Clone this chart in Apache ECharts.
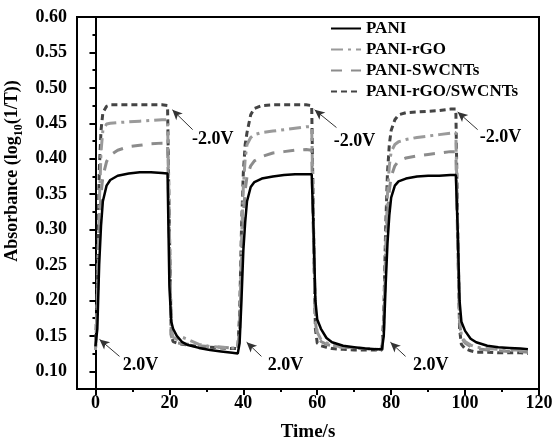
<!DOCTYPE html>
<html>
<head>
<meta charset="utf-8">
<script src="https://cdn.jsdelivr.net/npm/echarts@6/dist/echarts.min.js"></script>
<style>
  html, body { margin: 0; padding: 0; background: #fff; }
  #chart { width: 555px; height: 439px; }
</style>
</head>
<body>
<div id="chart"></div>
<script>
// time points (s)
var time = [
  0, 0.5, 1, 1.5, 2, 3, 4, 6, 9, 12, 15, 18, 19.5,
  20, 20.5, 21, 22, 23.5, 25, 28, 31, 34, 37, 38.5,
  39, 39.5, 40, 40.5, 41, 42, 43, 45, 48, 51, 54, 57, 58.5,
  59, 59.5, 60, 61, 62.5, 64, 67, 70, 73, 76, 77.5,
  78, 78.5, 79, 79.5, 80, 81, 82, 84, 87, 90, 93, 96, 97.5,
  98, 98.5, 99, 100, 101.5, 103, 106, 109, 112, 115, 117
];

var pani = [
  0.135, 0.16, 0.25, 0.305, 0.34, 0.362, 0.37, 0.376, 0.379, 0.381, 0.381, 0.38, 0.379,
  0.22, 0.17, 0.16, 0.15, 0.141, 0.137, 0.133, 0.13, 0.128, 0.126, 0.125,
  0.14, 0.2, 0.27, 0.31, 0.34, 0.36, 0.367, 0.372, 0.375, 0.377, 0.378, 0.378, 0.378,
  0.3, 0.2, 0.173, 0.16, 0.147, 0.141, 0.136, 0.134, 0.132, 0.131, 0.131,
  0.15, 0.22, 0.28, 0.32, 0.345, 0.362, 0.368, 0.372, 0.375, 0.376, 0.376, 0.377, 0.377,
  0.3, 0.2, 0.17, 0.157, 0.146, 0.141, 0.136, 0.134, 0.133, 0.132, 0.131
];

var paniRgo = [
  0.13, 0.2, 0.33, 0.41, 0.44, 0.449, 0.45, 0.451, 0.452, 0.453, 0.454, 0.455, 0.455,
  0.3, 0.16, 0.148, 0.145, 0.148, 0.145, 0.138, 0.135, 0.134, 0.133, 0.133,
  0.16, 0.28, 0.36, 0.4, 0.42, 0.43, 0.434, 0.437, 0.439, 0.441, 0.443, 0.445, 0.445,
  0.3, 0.18, 0.155, 0.145, 0.14, 0.137, 0.134, 0.133, 0.132, 0.131, 0.131,
  0.17, 0.27, 0.35, 0.39, 0.41, 0.42, 0.424, 0.427, 0.43, 0.432, 0.434, 0.436, 0.437,
  0.3, 0.18, 0.15, 0.142, 0.137, 0.134, 0.132, 0.131, 0.13, 0.13, 0.129
];

var paniSwcnt = [
  0.13, 0.19, 0.3, 0.35, 0.375, 0.396, 0.405, 0.412, 0.417, 0.419, 0.421, 0.422, 0.422,
  0.28, 0.15, 0.142, 0.14, 0.139, 0.138, 0.136, 0.135, 0.134, 0.133, 0.133,
  0.15, 0.25, 0.32, 0.355, 0.375, 0.39, 0.397, 0.403, 0.408, 0.41, 0.412, 0.413, 0.412,
  0.28, 0.17, 0.15, 0.142, 0.138, 0.136, 0.134, 0.133, 0.132, 0.131, 0.131,
  0.16, 0.25, 0.32, 0.355, 0.375, 0.39, 0.397, 0.401, 0.404, 0.406, 0.408, 0.41, 0.41,
  0.28, 0.17, 0.148, 0.14, 0.135, 0.132, 0.13, 0.129, 0.128, 0.128, 0.127
];

var paniRgoSwcnt = [
  0.13, 0.22, 0.38, 0.44, 0.465, 0.474, 0.476, 0.476, 0.476, 0.476, 0.476, 0.476, 0.475,
  0.3, 0.15, 0.142, 0.14, 0.138, 0.137, 0.135, 0.134, 0.133, 0.132, 0.132,
  0.18, 0.3, 0.38, 0.42, 0.437, 0.462, 0.471, 0.475, 0.476, 0.476, 0.476, 0.476, 0.475,
  0.3, 0.16, 0.14, 0.136, 0.134, 0.132, 0.131, 0.13, 0.13, 0.13, 0.13,
  0.18, 0.3, 0.38, 0.42, 0.44, 0.455, 0.462, 0.465, 0.466, 0.467, 0.468, 0.47, 0.47,
  0.3, 0.16, 0.138, 0.132, 0.129, 0.127, 0.127, 0.126, 0.126, 0.126, 0.125
];

var seriesNames = ['PANI', 'PANI-rGO', 'PANI-SWCNTs', 'PANI-rGO/SWCNTs'];

var xTicks = [0, 20, 40, 60, 80, 100, 120];
var xMinorTicks = [10, 30, 50, 70, 90, 110];
var yTicks = [0.10, 0.15, 0.20, 0.25, 0.30, 0.35, 0.40, 0.45, 0.50, 0.55, 0.60];
var yMinorTicks = [0.125, 0.175, 0.225, 0.275, 0.325, 0.375, 0.425, 0.475, 0.525, 0.575];

// annotation arrows: [from, to] in data coords
var arrows = [
  [[26.3, 0.441], [20.8, 0.469]],
  [[65.2, 0.444], [59.3, 0.469]],
  [[103.4, 0.441], [98.0, 0.466]],
  [[6.5, 0.121], [1.1, 0.145]],
  [[44.9, 0.121], [40.9, 0.141]],
  [[83.9, 0.121], [79.8, 0.141]]
];
var notes = [
  ['-2.0V', 31.7, 0.427],
  ['-2.0V', 70.1, 0.425],
  ['-2.0V', 109.6, 0.430],
  ['2.0V', 12.2, 0.108],
  ['2.0V', 51.4, 0.108],
  ['2.0V', 90.7, 0.108]
];

function pairs(ys) {
  return time.map(function (t, i) { return [t, ys[i]]; });
}

var font = 'Liberation Serif';
var chart = echarts.init(document.getElementById('chart'));

var styles = [
  { color: '#000000', type: 'solid', width: 2.5 },
  { color: '#9a9a9a', type: [12, 5, 3, 5], width: 3 },
  { color: '#8c8c8c', type: [11, 9], width: 3 },
  { color: '#444444', type: [6, 4], width: 3 }
];
var values = [pani, paniRgo, paniSwcnt, paniRgoSwcnt];

var series = seriesNames.map(function (name, i) {
  return {
    name: name,
    type: 'line',
    symbol: 'none',
    data: pairs(values[i]),
    lineStyle: styles[i],
    itemStyle: { color: styles[i].color },
    z: 10 - i
  };
});

series.push({
  type: 'line',
  data: [],
  silent: true,
  markLine: {
    silent: true,
    symbol: ['none', 'arrow'],
    symbolSize: [7, 10],
    lineStyle: { color: '#333', width: 1, type: 'solid' },
    label: { show: false },
    data: arrows.map(function (a) {
      return [{ coord: a[0] }, { coord: a[1] }];
    })
  },
  markPoint: {
    silent: true,
    symbol: 'circle',
    symbolSize: 0,
    label: {
      show: true,
      position: 'inside',
      color: '#000',
      fontFamily: font,
      fontWeight: 'bold',
      fontSize: 18,
      formatter: function (p) { return p.name; }
    },
    data: notes.map(function (n) {
      return { name: n[0], coord: [n[1], n[2]] };
    })
  }
});

var option = {
  animation: false,
  backgroundColor: '#fff',
  grid: {
    left: 77, right: 16, top: 17, bottom: 50,
    outerBoundsMode: 'none',
    show: true, borderColor: '#000', borderWidth: 2
  },
  legend: {
    data: seriesNames,
    orient: 'vertical',
    left: 325,
    top: 15,
    itemWidth: 30,
    itemHeight: 14,
    itemGap: 4,
    itemStyle: { opacity: 0 },
    textStyle: { fontFamily: font, fontWeight: 'bold', fontSize: 17, color: '#000' }
  },
  xAxis: [{
    type: 'value',
    min: -5, max: 120,
    name: 'Time/s',
    nameLocation: 'middle',
    nameGap: 34,
    nameTextStyle: { fontFamily: font, fontWeight: 'bold', fontSize: 19, color: '#000' },
    axisLine: { lineStyle: { color: '#000', width: 2 } },
    axisTick: { customValues: xTicks, length: 6, lineStyle: { color: '#000', width: 2 } },
    axisLabel: { customValues: xTicks, margin: 5, fontFamily: font, fontWeight: 'bold', fontSize: 18, color: '#000' },
    splitLine: { show: false }
  }, {
    type: 'value',
    min: -5, max: 120,
    position: 'bottom',
    axisLine: { show: false },
    axisTick: { customValues: xMinorTicks, length: 3, lineStyle: { color: '#000', width: 2 } },
    axisLabel: { show: false },
    splitLine: { show: false }
  }],
  yAxis: [{
    type: 'value',
    min: 0.075, max: 0.6,
    name: '{a|Absorbance (log}{s|10}{a|(1/T))}',
    nameLocation: 'middle',
    nameRotate: 90,
    nameGap: 45,
    nameTextStyle: {
      padding: [0, 0, 0, 64],
      rich: {
        a: { fontFamily: font, fontWeight: 'bold', fontSize: 18, color: '#000', verticalAlign: 'bottom' },
        s: { fontFamily: font, fontWeight: 'bold', fontSize: 12, color: '#000', verticalAlign: 'bottom', padding: [0, 0, -3, 0] }
      }
    },
    axisLine: { lineStyle: { color: '#000', width: 2 } },
    axisTick: { customValues: yTicks, length: 6, lineStyle: { color: '#000', width: 2 } },
    axisLabel: {
      customValues: yTicks, margin: 10,
      fontFamily: font, fontWeight: 'bold', fontSize: 18, color: '#000',
      formatter: function (v) { return v.toFixed(2); }
    },
    splitLine: { show: false }
  }, {
    type: 'value',
    min: 0.075, max: 0.6,
    position: 'left',
    axisLine: { show: false },
    axisTick: { customValues: yMinorTicks, length: 3, lineStyle: { color: '#000', width: 2 } },
    axisLabel: { show: false },
    splitLine: { show: false }
  }],
  series: series
};

chart.setOption(option);
</script>
</body>
</html>
